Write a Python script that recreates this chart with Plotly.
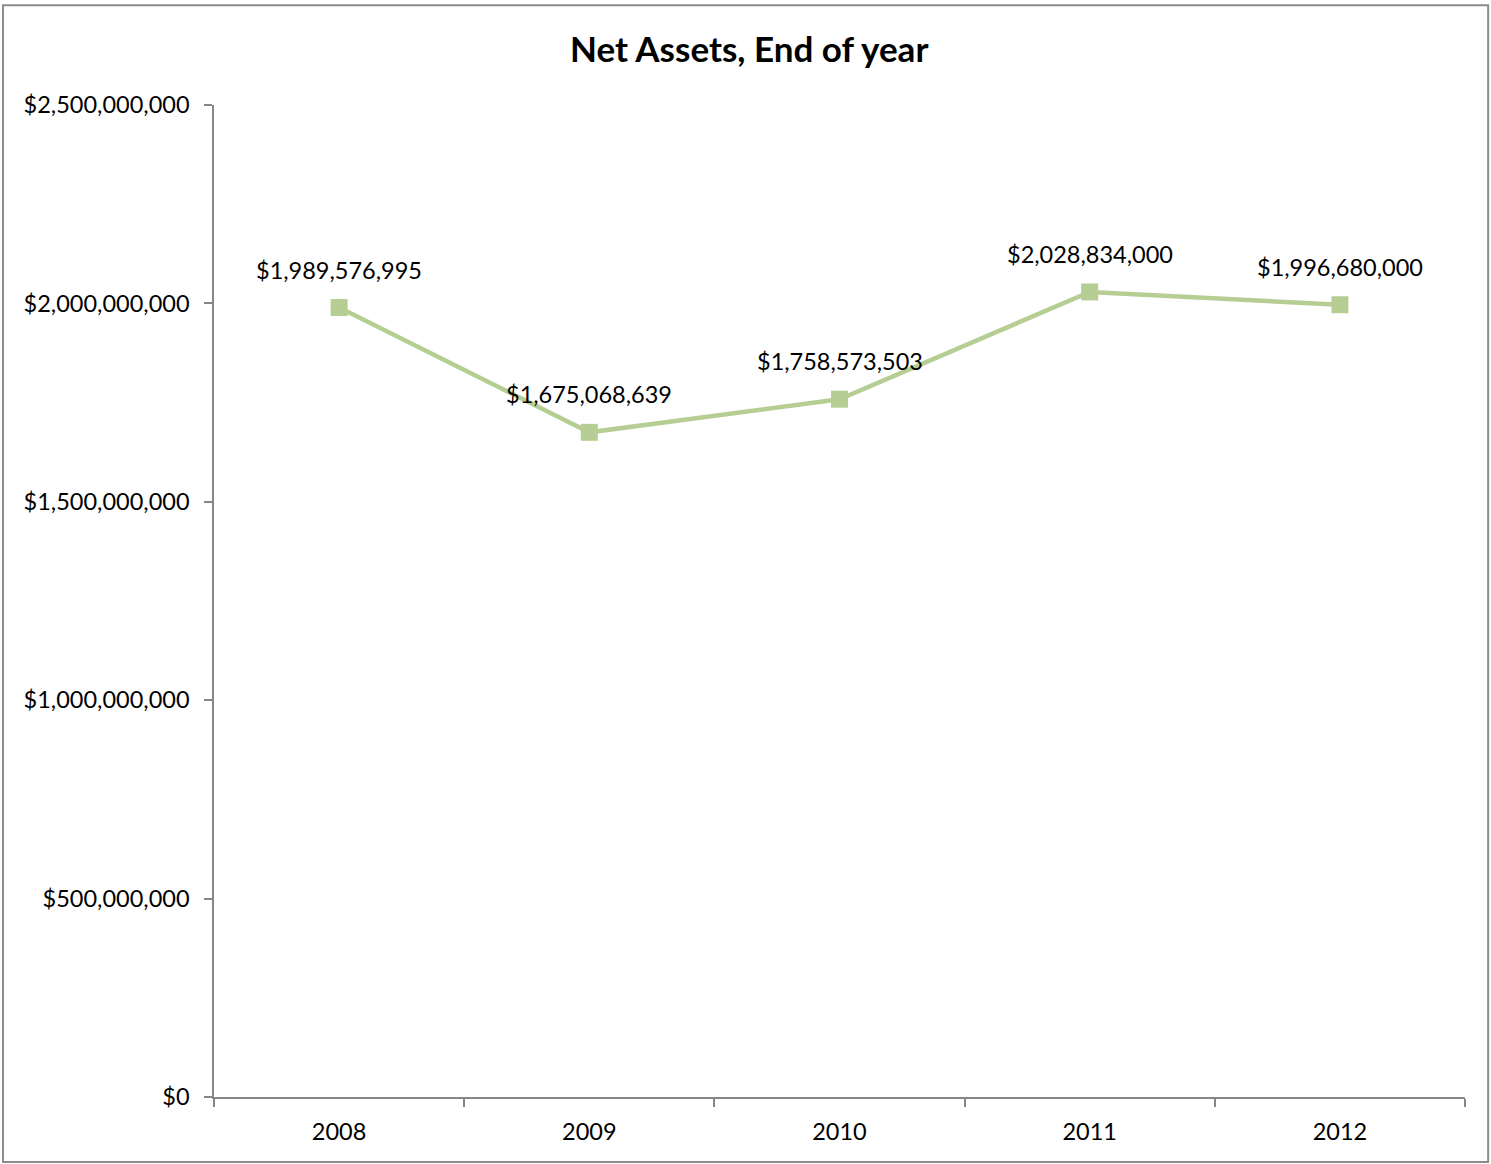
import plotly.graph_objects as go

# Data
years = ["2008", "2009", "2010", "2011", "2012"]
net_assets = [1989576995, 1675068639, 1758573503, 2028834000, 1996680000]
y_ticks = [0, 500000000, 1000000000, 1500000000, 2000000000, 2500000000]
y_labels = ["$" + format(v, ",") for v in y_ticks]
x_pos = list(range(len(years)))
x_bounds = [i - 0.5 for i in range(len(years) + 1)]

GREEN = "#B6CE94"
GRID = "#868686"
FONT = "Lato, Calibri, sans-serif"

fig = go.Figure()
fig.add_trace(
    go.Scatter(
        x=x_pos,
        y=net_assets,
        mode="lines+markers",
        line=dict(color=GREEN, width=4.5),
        marker=dict(symbol="square", size=17, color=GREEN),
        hoverinfo="skip",
        showlegend=False,
    )
)

# data labels above each point
for xi, v in zip(x_pos, net_assets):
    fig.add_annotation(
        x=xi, y=v, xref="x", yref="y",
        text="$" + format(v, ","),
        showarrow=False, yanchor="bottom", yshift=22,
        font=dict(size=23.5, color="black", family=FONT),
    )

fig.update_layout(
    width=1491,
    height=1164,
    margin=dict(l=214, r=26, t=105, b=67),
    paper_bgcolor="white",
    plot_bgcolor="white",
    font=dict(family=FONT, size=23.5, color="black"),
    title=dict(
        text="<b>Net Assets, End of year</b>",
        x=0.5025,
        xanchor="center",
        y=0.957,
        yanchor="middle",
        font=dict(size=35, family=FONT),
    ),
    shapes=[
        dict(
            type="rect", xref="paper", yref="paper",
            x0=-0.1687, x1=1.0185, y0=-0.0655, y1=1.1005,
            line=dict(color="#8C8C8C", width=2),
        )
    ],
)

fig.update_xaxes(
    range=[-0.5, 4.5],
    tickmode="array",
    tickvals=x_pos,
    ticktext=years,
    ticks="",
    minor=dict(
        tickmode="array",
        tickvals=x_bounds,
        ticks="outside",
        ticklen=8,
        tickcolor=GRID,
        tickwidth=1.5,
        showgrid=False,
    ),
    showline=True,
    linecolor=GRID,
    linewidth=1.5,
    showgrid=False,
    zeroline=False,
    ticklabelstandoff=13,
)
fig.update_yaxes(
    range=[0, 2500000000],
    tickmode="array",
    tickvals=y_ticks,
    ticktext=y_labels,
    ticks="outside",
    ticklen=8,
    tickcolor=GRID,
    tickwidth=1.5,
    showline=True,
    linecolor=GRID,
    linewidth=1.5,
    showgrid=False,
    zeroline=False,
    ticklabelstandoff=10,
)

fig.write_html(
    "out.html",
    config={"displayModeBar": False},
    post_script="document.body.style.margin='0';",
)
